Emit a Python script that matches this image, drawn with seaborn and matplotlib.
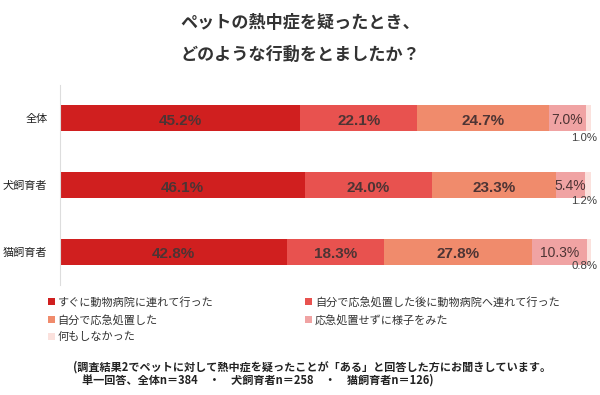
import matplotlib
matplotlib.use('Agg')
import pandas as pd
import matplotlib.pyplot as plt
import seaborn as sns
from matplotlib.patches import Patch

# data
groups = ['全体', '犬飼育者', '猫飼育者']
answers = ['すぐに動物病院に連れて行った',
           '自分で応急処置した後に動物病院へ連れて行った',
           '自分で応急処置した',
           '応急処置せずに様子をみた',
           '何もしなかった']
vals_all = [45.2, 22.1, 24.7, 7.0, 1.0]
vals_dog = [46.1, 24.0, 23.3, 5.4, 1.2]
vals_cat = [42.8, 18.3, 27.8, 10.3, 0.8]
colors = ['#d01f1f', '#e8524f', '#f08b6c', '#f0a3a3', '#fbe1dd']

df = pd.DataFrame([vals_all, vals_dog, vals_cat], index=groups, columns=answers)
cum = df.cumsum(axis=1)

sns.set_theme(style='white')
plt.rcParams['font.family'] = ['Noto Sans CJK JP', 'DejaVu Sans']

fig = plt.figure(figsize=(6, 3.95), dpi=100)
ax = fig.add_axes([60 / 600, 1 - 285 / 395, 531 / 600, 200 / 395])

# stacked bars: draw cumulative totals from the last segment back to the first
for i in range(len(answers) - 1, -1, -1):
    d = pd.DataFrame({'group': groups, 'end': cum.iloc[:, i].values})
    sns.barplot(data=d, x='end', y='group', orient='h', color=colors[i],
                width=0.39, saturation=1, ax=ax, linewidth=0)

small_off = [0.29, 0.24, 0.21]
for r, g in enumerate(groups):
    for i, a in enumerate(answers):
        v = df.loc[g, a]
        start = cum.loc[g, a] - v
        if i < 3:
            ax.text(start + v / 2, r + 0.04, f'{v:.1f}%', ha='center', va='center',
                    fontsize=11, fontweight='bold', color='#4d3434',
                    family='Liberation Sans')
        elif i == 3:
            ax.text(start + v / 2, r + 0.02, f'{v:.1f}%', ha='center', va='center',
                    fontsize=10, color='#4d3434', family='Liberation Sans')
        else:
            ax.text(101.2, r + small_off[r], f'{v:.1f}%', ha='right', va='center',
                    fontsize=8.2, color='#404040', family='Liberation Sans')

ax.set_xlim(0, 100)
ax.set_ylim(2.5, -0.5)
ax.set_xlabel('')
ax.set_ylabel('')
ax.set_xticks([])
ax.tick_params(axis='y', length=0, labelsize=8, pad=9, colors='#222222')
for s in ['top', 'right', 'bottom']:
    ax.spines[s].set_visible(False)
ax.spines['left'].set_color('#dddddd')
ax.spines['left'].set_linewidth(0.8)

fig.text(0.5, 1 - 23 / 395, 'ペットの熱中症を疑ったとき、', ha='center', va='center',
         fontsize=12.3, fontweight='bold', color='#333333')
fig.text(0.5, 1 - 55 / 395, 'どのような行動をとましたか？', ha='center', va='center',
         fontsize=12.3, fontweight='bold', color='#333333')

order = [0, 2, 4, 1, 3]
handles = [Patch(facecolor=colors[k], edgecolor='none', label=answers[k]) for k in order]
fig.legend(handles=handles, loc='upper left', bbox_to_anchor=(0.08, 0.249),
           ncol=2, frameon=False, fontsize=8, handlelength=0.6, handleheight=0.6,
           handletextpad=0.25, columnspacing=8.3, labelspacing=0.62,
           labelcolor='#333333', borderaxespad=0, borderpad=0)

fig.text(0.122, 1 - 367 / 395, '(調査結果2でペットに対して熱中症を疑ったことが「ある」と回答した方にお聞きしています。',
         ha='left', va='center', fontsize=8, fontweight='bold', color='#222222')
fig.text(0.137, 1 - 380 / 395, '単一回答、全体n＝384　・　犬飼育者n＝258　・　猫飼育者n＝126)',
         ha='left', va='center', fontsize=8, fontweight='bold', color='#222222')

fig.savefig('out.png', dpi=100)
